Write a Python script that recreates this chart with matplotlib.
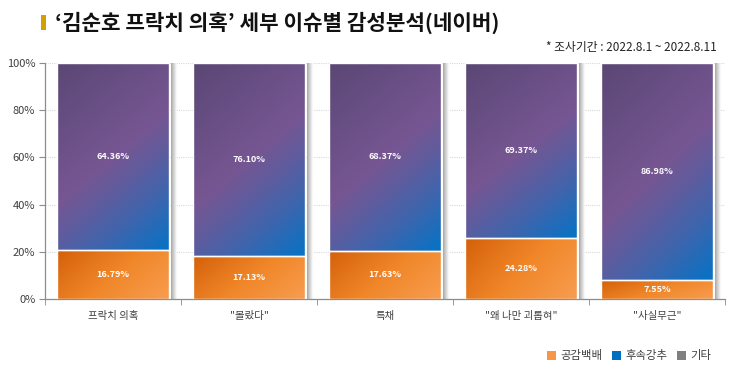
import numpy as np
import matplotlib
matplotlib.use("Agg")
import matplotlib.pyplot as plt
from matplotlib.colors import LinearSegmentedColormap
from matplotlib.patches import Rectangle, Patch

plt.rcParams['font.family'] = ['Noto Sans CJK KR', 'DejaVu Sans']

# ---- data ----
categories = ['프락치 의혹', '"몰랐다"', '특채', '"왜 나만 괴롭혀"', '"사실무근"']
empathy = [16.79, 17.13, 17.63, 24.28, 7.55]      # 공감백배
recommend = [64.36, 76.10, 68.37, 69.37, 86.98]   # 후속강추
others = [0, 0, 0, 0, 0]                          # 기타
series_names = ['공감백배', '후속강추', '기타']
yticks = [0, 20, 40, 60, 80, 100]
title = "‘김순호 프락치 의혹’ 세부 이슈별 감성분석(네이버)"
subtitle = "* 조사기간 : 2022.8.1 ~ 2022.8.11"

W, H, DPI = 734, 370, 100
fig = plt.figure(figsize=(W / DPI, H / DPI), dpi=DPI)
ax_l, ax_r, ax_t, ax_b = 45, 725, 63, 299
ax = fig.add_axes([ax_l / W, 1 - ax_b / H, (ax_r - ax_l) / W, (ax_b - ax_t) / H])

n = len(categories)
ax.set_xlim(-0.5, n - 0.5)
ax.set_ylim(0, 100)
bw = 0.83
px_x = (ax_r - ax_l) / n
px_y = (ax_b - ax_t) / 100.0

orange_cmap = LinearSegmentedColormap.from_list('o', [(0, '#d4600a'), (0.5, '#f08628'), (1.0, '#f89d50')])
purple_cmap = LinearSegmentedColormap.from_list('p', [(0, '#5a4775'), (0.5, '#765692'), (0.63, '#5f5c9e'),
                                                     (0.78, '#3f65ad'), (1.0, '#0473c6')])
shadow_cmap = LinearSegmentedColormap.from_list('s', ['#a8a8a8', '#ffffff'])

def grad_rect(x0, x1, y0, y1, cmap, a, b):
    u = np.linspace(0, 1, 120)
    s = np.linspace(0, 1, 200)
    U, S = np.meshgrid(u, s)
    t = (a * U + b * S) / (a + b)
    ax.imshow(t, cmap=cmap, vmin=0, vmax=1, extent=[x0, x1, y0, y1], origin='upper',
              aspect='auto', interpolation='bilinear', zorder=2)

# grid
for yv in yticks[1:]:
    ax.axhline(yv, color='#d9d9d9', lw=0.8, ls=(0, (1, 1)), zorder=0)

x = np.arange(n)
for i in range(n):
    tot = empathy[i] + recommend[i] + others[i]
    e = empathy[i] / tot * 100
    r = recommend[i] / tot * 100
    o = others[i] / tot * 100
    x0, x1 = x[i] - bw / 2, x[i] + bw / 2
    # shadow
    sx0 = x1 + 1.5 / px_x
    sx1 = sx0 + 6 / px_x
    sh = np.tile(np.linspace(0, 1, 50), (10, 1))
    ax.imshow(sh, cmap=shadow_cmap, vmin=0, vmax=1, extent=[sx0, sx1, 0, 100],
              aspect='auto', interpolation='bilinear', zorder=1)
    grad_rect(x0, x1, 0, e, orange_cmap, 1.0, 0.5)
    grad_rect(x0, x1, e, e + r, purple_cmap, 0.5, 1.0)
    if o > 0:
        ax.add_patch(Rectangle((x0, e + r), bw, o, facecolor='#7f7f7f', zorder=2))
    ax.add_patch(Rectangle((x0, 0), bw, e, facecolor='none', edgecolor='white', lw=1.0, zorder=3))
    ax.add_patch(Rectangle((x0, e), bw, r, facecolor='none', edgecolor='white', lw=1.0, zorder=3))
    ax.text(x[i], e / 2, f"{empathy[i]:.2f}%", ha='center', va='center', color='white',
            fontsize=6.5, fontweight='bold', zorder=4)
    ax.text(x[i], e + r / 2, f"{recommend[i]:.2f}%", ha='center', va='center', color='white',
            fontsize=6.5, fontweight='bold', zorder=4)

# axes styling
for sp in ['top', 'right']:
    ax.spines[sp].set_visible(False)
for sp in ['left', 'bottom']:
    ax.spines[sp].set_color('#8c8c8c')
    ax.spines[sp].set_linewidth(0.9)
ax.set_yticks(yticks)
ax.set_yticklabels([f"{v}%" for v in yticks], fontsize=8, color='#404040')
ax.tick_params(axis='y', length=4, color='#8c8c8c', pad=3)
ax.set_xticks(x)
ax.set_xticklabels(categories, fontsize=7.5, color='#404040')
ax.tick_params(axis='x', which='major', length=0, pad=9)
ax.set_xticks(np.arange(-0.5, n), minor=True)
ax.tick_params(axis='x', which='minor', length=4, color='#8c8c8c')

# title
fig.patches.append(Rectangle((41 / W, 1 - 30 / H), 5 / W, 15 / H, transform=fig.transFigure,
                             facecolor='#d4a000', edgecolor='none'))
fig.text(55 / W, 1 - 22.5 / H, title, fontsize=15.3, fontweight='bold', va='center', ha='left', color='#111111')
fig.text(717 / W, 1 - 48 / H, subtitle, fontsize=8.5, va='center', ha='right', color='#222222')

handles = [Patch(facecolor='#f79646'), Patch(facecolor='#0070c0'), Patch(facecolor='#7f7f7f')]
fig.legend(handles, series_names, loc='center right', bbox_to_anchor=(716 / W, 1 - 356 / H),
           ncol=3, frameon=False, fontsize=8.2, handlelength=0.8, handleheight=0.8,
           handletextpad=0.4, columnspacing=0.8, borderaxespad=0, labelcolor='#404040')

fig.savefig('out.png', dpi=DPI)
